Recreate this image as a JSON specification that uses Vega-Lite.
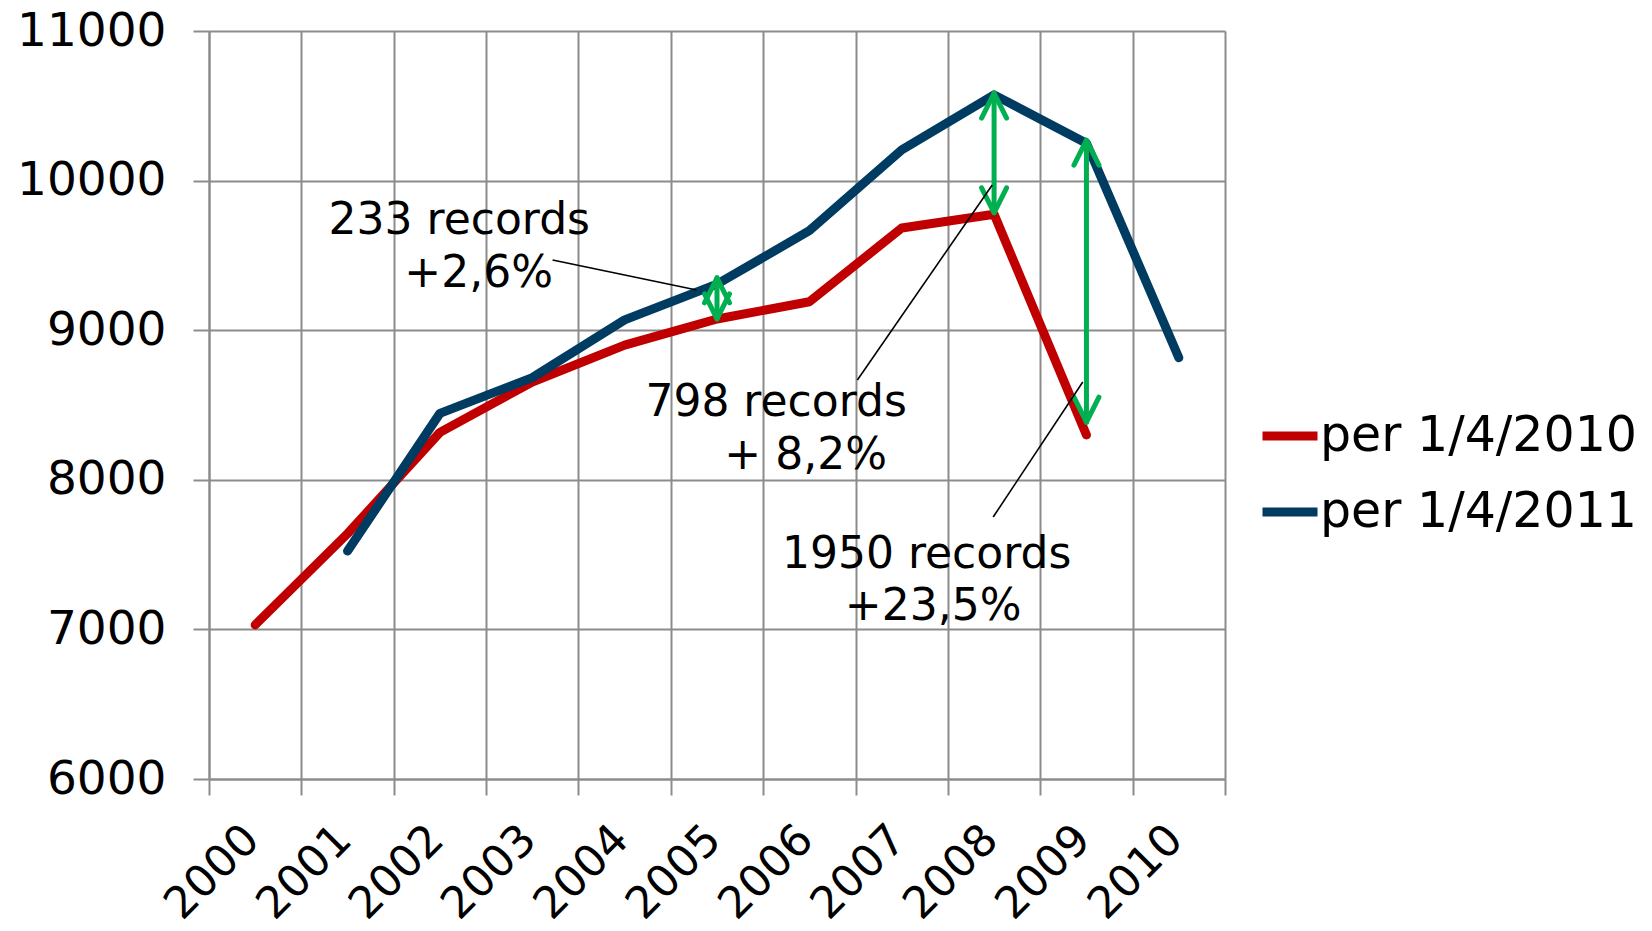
{
  "$schema": "https://vega.github.io/schema/vega-lite/v6.json",
  "width": 1016,
  "height": 748,
  "autosize": {"type": "none"},
  "padding": {"left": 209, "top": 31, "right": 427, "bottom": 152},
  "background": "white",
  "config": {
    "font": "DejaVu Sans",
    "view": {"stroke": null},
    "axis": {
      "gridColor": "#8c8c8c", "gridWidth": 2, "gridOpacity": 1,
      "domainColor": "#8c8c8c", "domainWidth": 2,
      "tickColor": "#8c8c8c", "tickWidth": 2,
      "labelColor": "#000000", "labelFont": "DejaVu Sans", "labelFontSize": 44
    }
  },
  "datasets": {
    "series": [
      {"year": 2000, "value": 7030, "series": "per 1/4/2010"},
      {"year": 2001, "value": 7640, "series": "per 1/4/2010"},
      {"year": 2002, "value": 8317, "series": "per 1/4/2010"},
      {"year": 2003, "value": 8654, "series": "per 1/4/2010"},
      {"year": 2004, "value": 8900, "series": "per 1/4/2010"},
      {"year": 2005, "value": 9075, "series": "per 1/4/2010"},
      {"year": 2006, "value": 9190, "series": "per 1/4/2010"},
      {"year": 2007, "value": 9683, "series": "per 1/4/2010"},
      {"year": 2008, "value": 9775, "series": "per 1/4/2010"},
      {"year": 2009, "value": 8300, "series": "per 1/4/2010"},
      {"year": 2001, "value": 7524, "series": "per 1/4/2011"},
      {"year": 2002, "value": 8444, "series": "per 1/4/2011"},
      {"year": 2003, "value": 8683, "series": "per 1/4/2011"},
      {"year": 2004, "value": 9069, "series": "per 1/4/2011"},
      {"year": 2005, "value": 9308, "series": "per 1/4/2011"},
      {"year": 2006, "value": 9665, "series": "per 1/4/2011"},
      {"year": 2007, "value": 10206, "series": "per 1/4/2011"},
      {"year": 2008, "value": 10573, "series": "per 1/4/2011"},
      {"year": 2009, "value": 10250, "series": "per 1/4/2011"},
      {"year": 2010, "value": 8816, "series": "per 1/4/2011"}
    ],
    "arrows": [
      {"year": 2005, "lo": 9075, "hi": 9350},
      {"year": 2008, "lo": 9785, "hi": 10585},
      {"year": 2009, "lo": 8385, "hi": 10270}
    ],
    "leaders": [
      {"x": 2003.22, "y": 9469, "x2": 2004.78, "y2": 9269},
      {"x": 2006.52, "y": 8667, "x2": 2007.98, "y2": 9971},
      {"x": 2007.99, "y": 7751, "x2": 2008.96, "y2": 8654}
    ],
    "notes": [
      {"x": 2002.21, "y": 9730, "label": "233 records"},
      {"x": 2002.42, "y": 9376, "label": "+2,6%"},
      {"x": 2005.64, "y": 8513, "label": "798 records"},
      {"x": 2005.96, "y": 8159, "label": "+ 8,2%"},
      {"x": 2007.27, "y": 7497, "label": "1950 records"},
      {"x": 2007.34, "y": 7150, "label": "+23,5%"}
    ]
  },
  "layer": [
    {
      "data": {"name": "series"},
      "mark": {"type": "line", "strokeWidth": 9, "strokeCap": "round", "strokeJoin": "round"},
      "encoding": {
        "x": {
          "field": "year", "type": "quantitative",
          "scale": {"domain": [1999.5, 2010.5], "nice": false, "zero": false},
          "axis": {
            "orient": "bottom",
            "values": [1999.5, 2000.5, 2001.5, 2002.5, 2003.5, 2004.5, 2005.5, 2006.5, 2007.5, 2008.5, 2009.5, 2010.5],
            "labels": false, "ticks": true, "tickSize": 16, "grid": true, "domain": true, "title": null
          }
        },
        "y": {
          "field": "value", "type": "quantitative",
          "scale": {"domain": [6000, 11000], "nice": false, "zero": false},
          "axis": {
            "values": [6000, 7000, 8000, 9000, 10000, 11000],
            "tickSize": 16, "labelPadding": 27, "labelFontSize": 47, "grid": true, "domain": true, "title": null, "format": "d"
          }
        },
        "color": {
          "field": "series", "type": "nominal",
          "scale": {"domain": ["per 1/4/2010", "per 1/4/2011"], "range": ["#C00000", "#003B62"]},
          "legend": {
            "title": null, "orient": "none", "legendX": 1049, "legendY": 373,
            "symbolType": "stroke", "symbolStrokeWidth": 9, "symbolSize": 3025,
            "labelFontSize": 49, "labelColor": "#000000", "labelOffset": -2, "rowPadding": 19,
            "labelLimit": 500
          }
        }
      }
    },
    {
      "data": {"name": "arrows"},
      "mark": {"type": "rule", "color": "#00B050", "strokeWidth": 5, "strokeCap": "round"},
      "encoding": {
        "x": {
          "field": "year", "type": "quantitative",
          "scale": {"domain": [1999.5, 2010.5], "nice": false, "zero": false},
          "axis": {
            "orient": "bottom",
            "values": [2000, 2001, 2002, 2003, 2004, 2005, 2006, 2007, 2008, 2009, 2010],
            "format": "d", "ticks": false, "tickSize": 0, "grid": false, "domain": false, "title": null,
            "labelAngle": -45, "labelAlign": "right", "labelBaseline": "top", "labelOverlap": false,
            "labelPadding": 38, "labelOffset": -19, "labelFontSize": 44
          }
        },
        "y": {"field": "lo", "type": "quantitative", "scale": {"domain": [6000, 11000], "nice": false, "zero": false}, "axis": null},
        "y2": {"field": "hi"}
      }
    },
    {
      "data": {"name": "arrows"},
      "mark": {"type": "point", "shape": "M-1,2L0,0L1,2", "size": 625, "filled": false, "stroke": "#00B050", "strokeWidth": 5, "strokeCap": "round", "strokeJoin": "round", "opacity": 1},
      "encoding": {
        "x": {"field": "year", "type": "quantitative", "scale": {"domain": [1999.5, 2010.5], "nice": false, "zero": false}, "axis": null},
        "y": {"field": "hi", "type": "quantitative", "scale": {"domain": [6000, 11000], "nice": false, "zero": false}, "axis": null}
      }
    },
    {
      "data": {"name": "arrows"},
      "mark": {"type": "point", "shape": "M-1,-2L0,0L1,-2", "size": 625, "filled": false, "stroke": "#00B050", "strokeWidth": 5, "strokeCap": "round", "strokeJoin": "round", "opacity": 1},
      "encoding": {
        "x": {"field": "year", "type": "quantitative", "scale": {"domain": [1999.5, 2010.5], "nice": false, "zero": false}, "axis": null},
        "y": {"field": "lo", "type": "quantitative", "scale": {"domain": [6000, 11000], "nice": false, "zero": false}, "axis": null}
      }
    },
    {
      "data": {"name": "leaders"},
      "mark": {"type": "rule", "color": "#000000", "strokeWidth": 1.6},
      "encoding": {
        "x": {"field": "x", "type": "quantitative", "scale": {"domain": [1999.5, 2010.5], "nice": false, "zero": false}, "axis": null},
        "x2": {"field": "x2"},
        "y": {"field": "y", "type": "quantitative", "scale": {"domain": [6000, 11000], "nice": false, "zero": false}, "axis": null},
        "y2": {"field": "y2"}
      }
    },
    {
      "data": {"name": "notes"},
      "mark": {"type": "text", "fontSize": 44, "font": "DejaVu Sans", "align": "center", "baseline": "middle", "color": "#000000"},
      "encoding": {
        "x": {"field": "x", "type": "quantitative", "scale": {"domain": [1999.5, 2010.5], "nice": false, "zero": false}, "axis": null},
        "y": {"field": "y", "type": "quantitative", "scale": {"domain": [6000, 11000], "nice": false, "zero": false}, "axis": null},
        "text": {"field": "label"}
      }
    }
  ],
  "resolve": {"axis": {"x": "independent", "y": "independent"}}
}
